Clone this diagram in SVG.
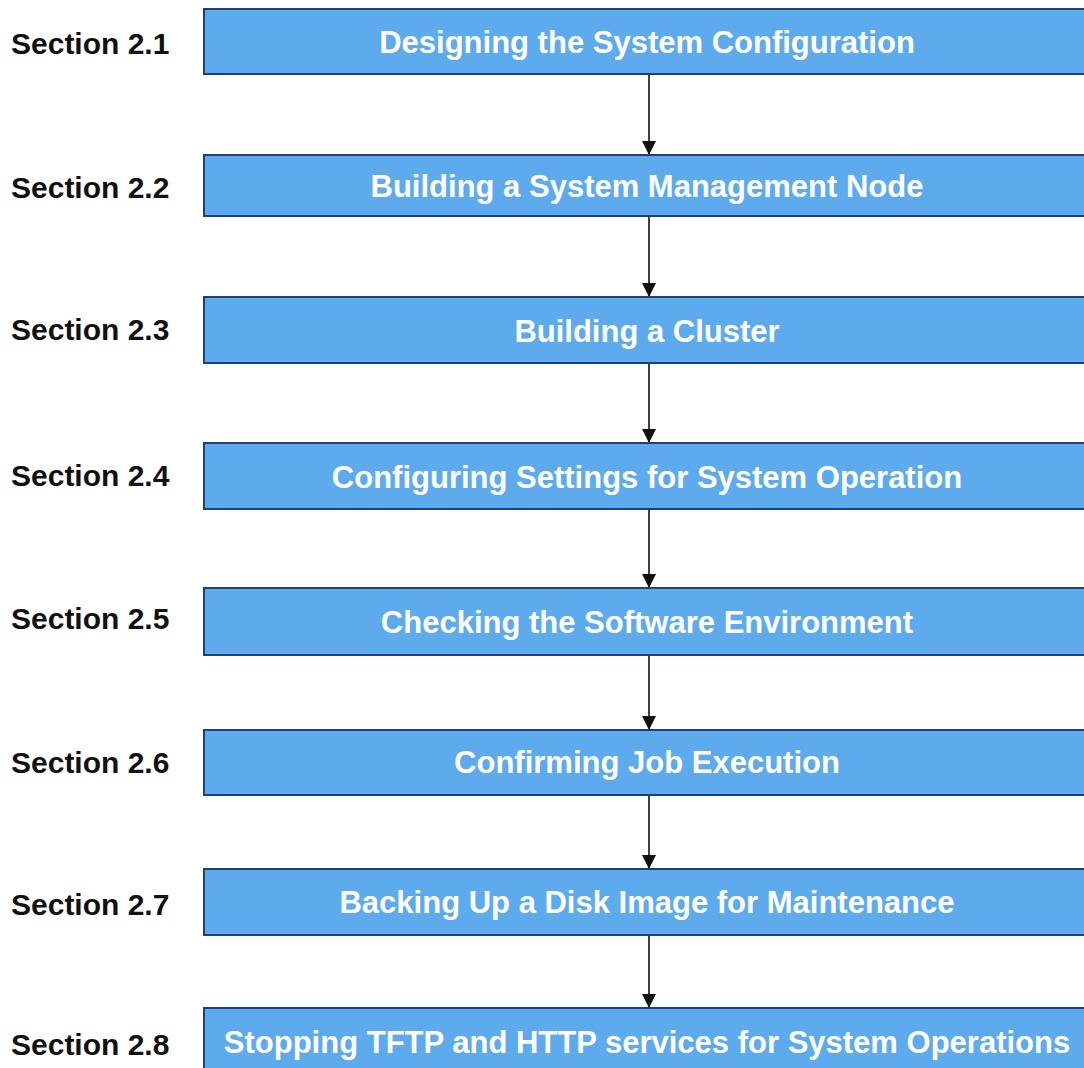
<svg xmlns="http://www.w3.org/2000/svg" width="1084" height="1068" viewBox="0 0 1084 1068">
<defs>
<style>
.box{fill:#5DABEC;stroke:#1F3F7A;stroke-width:2}
.bt{font-family:"Liberation Sans",Arial,sans-serif;font-weight:bold;font-size:31px;fill:#ffffff;text-anchor:middle}
.lb{font-family:"Liberation Sans",Arial,sans-serif;font-weight:bold;font-size:30px;fill:#111111}
.ar{stroke:#111111;stroke-width:1.6;fill:none;marker-end:url(#ah)}
</style>
<marker id="ah" markerWidth="14" markerHeight="14" refX="14" refY="7" orient="auto" markerUnits="userSpaceOnUse" viewBox="0 0 14 14">
<path d="M0,0 L14,7 L0,14 Z" fill="#111111"/>
</marker>
</defs>
<rect width="1084" height="1068" fill="#ffffff"/>
<g id="connectors">
<line class="ar" x1="649" y1="74" x2="649" y2="155"/>
<line class="ar" x1="649" y1="216" x2="649" y2="297"/>
<line class="ar" x1="649" y1="363" x2="649" y2="443"/>
<line class="ar" x1="649" y1="509" x2="649" y2="588"/>
<line class="ar" x1="649" y1="655" x2="649" y2="730"/>
<line class="ar" x1="649" y1="795" x2="649" y2="869"/>
<line class="ar" x1="649" y1="935" x2="649" y2="1008"/>
</g>
<g id="n1"><text class="lb" x="11" y="54">Section 2.1</text><rect class="box" x="204" y="9" width="892" height="65"/><text class="bt" x="647" y="53">Designing the System Configuration</text></g>
<g id="n2"><text class="lb" x="11" y="198">Section 2.2</text><rect class="box" x="204" y="155" width="892" height="61"/><text class="bt" x="647" y="197">Building a System Management Node</text></g>
<g id="n3"><text class="lb" x="11" y="340">Section 2.3</text><rect class="box" x="204" y="297" width="892" height="66"/><text class="bt" x="647" y="342">Building a Cluster</text></g>
<g id="n4"><text class="lb" x="11" y="486">Section 2.4</text><rect class="box" x="204" y="443" width="892" height="66"/><text class="bt" x="647" y="488">Configuring Settings for System Operation</text></g>
<g id="n5"><text class="lb" x="11" y="629">Section 2.5</text><rect class="box" x="204" y="588" width="892" height="67"/><text class="bt" x="647" y="633">Checking the Software Environment</text></g>
<g id="n6"><text class="lb" x="11" y="773">Section 2.6</text><rect class="box" x="204" y="730" width="892" height="65"/><text class="bt" x="647" y="773">Confirming Job Execution</text></g>
<g id="n7"><text class="lb" x="11" y="915">Section 2.7</text><rect class="box" x="204" y="869" width="892" height="66"/><text class="bt" x="647" y="913">Backing Up a Disk Image for Maintenance</text></g>
<g id="n8"><text class="lb" x="11" y="1055">Section 2.8</text><rect class="box" x="204" y="1008" width="892" height="80"/><text class="bt" x="647" y="1053">Stopping TFTP and HTTP services for System Operations</text></g>
</svg>
